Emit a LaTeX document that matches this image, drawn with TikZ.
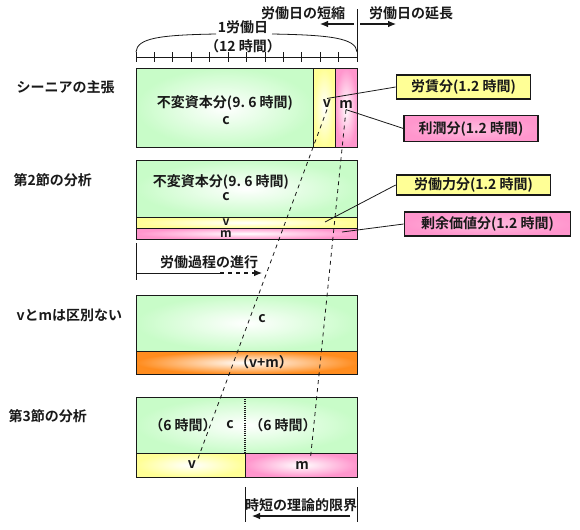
\documentclass[tikz,border=0pt]{standalone}
\usepackage{fontspec}
\setmainfont{Noto Sans CJK JP}[BoldFont={* Bold}]
\usepackage{tikz}
\usetikzlibrary{arrows.meta, positioning}
\definecolor{cgreen}{RGB}{200,252,200}
\definecolor{cyellow}{RGB}{255,255,150}
\definecolor{cpink}{RGB}{255,150,205}
\definecolor{corange}{RGB}{255,140,30}
\definecolor{mydark}{RGB}{25,25,25}
\tikzset{
  lbl/.style={font=\fontsize{10.5}{12}\selectfont\bfseries, inner sep=1pt, text=mydark},
  rowlbl/.style={lbl, anchor=west},
  striplbl/.style={lbl, font=\fontsize{9}{9}\selectfont\bfseries, inner sep=0pt,
    text height=1ex, text depth=0pt},
  callout/.style={rectangle, draw=mydark, line width=0.8pt, lbl, inner sep=0pt,
    minimum height=18pt},
  segbox/.style={draw=mydark, line width=0.6pt, inner color=white},
  arrow/.style={-{Latex[length=6pt,width=5pt]}, line width=0.8pt, color=mydark},
  line/.style={line width=0.6pt, color=mydark},
  guide/.style={dashed, line width=0.6pt, color=mydark}
}

\begin{document}
\begin{tikzpicture}[x=0.75pt, y=-0.75pt, node distance=2pt]
\useasboundingbox (0,0) rectangle (580,529);

% top: working day and ruler
\node[lbl] (day) at (243,27) {1労働日};
\node[lbl, below=2pt of day] (dayh) {（12 時間）};
\draw[line] (136,52) .. controls (137,38) and (160,35) .. (216,34);
\draw[line] (272,34) .. controls (330,35) and (356,38) .. (357,52);
\draw[line] (136,57) -- (357,57);
\foreach \i in {0,...,12}
  \draw[line] (136+\i*18.4167,52) -- ++(0,10);
\coordinate (split) at (357,9);
\coordinate (splitb) at (357,56);
\draw[line] (split) -- (splitb);
\node[lbl] (short) at (303,13) {労働日の短縮};
\node[lbl] (long) at (411,13) {労働日の延長};
\coordinate (s0) at (354,24);
\coordinate (s1) at (320,24);
\coordinate (l0) at (360,24);
\coordinate (l1) at (396,24);
\draw[arrow] (s0) -- (s1);
\draw[arrow] (l0) -- (l1);

% row 1
\node[rowlbl] (r1) at (15,87) {シーニアの主張};
\shade[segbox, outer color=cgreen] (136,68) rectangle (313,147);
\shade[segbox, outer color=cyellow] (313,68) rectangle (335,147);
\shade[segbox, outer color=cpink] (335,68) rectangle (357,147);
\node[lbl] (c1t) at (225,103) {不変資本分(9.~6 時間)};
\node[lbl] (c1) at (226,121) {c};
\node[lbl] (v1) at (327,104) {v};
\node[lbl] (m1) at (346,104) {m};
\node[callout, fill=cyellow, minimum width=101pt] (wage) at (463.5,87) {労賃分(1.2 時間)};
\node[callout, inner color=white!35!cpink, outer color=cpink, minimum width=100.5pt, minimum height=19pt] (profit) at (471,128.5) {利潤分(1.2 時間)};
\draw[line] (wage.west) -- (v1.north);
\draw[line] (profit.west) -- (m1.south);

% row 2
\node[rowlbl] (r2) at (12,180) {第2節の分析};
\shade[segbox, outer color=cgreen] (136,160) rectangle (357,217);
\shade[segbox, outer color=cyellow] (136,217) rectangle (357,228);
\shade[segbox, outer color=cpink] (136,228) rectangle (357,239);
\node[lbl] (c2t) at (221,182) {不変資本分(9.~6 時間)};
\node[lbl] (c2) at (226,197) {c};
\node[striplbl] (v2) at (226,222) {v};
\node[striplbl] (m2) at (226,234) {m};
\node[callout, fill=cyellow, minimum width=116pt, minimum height=15pt] (labour) at (473.5,185) {労働力分(1.2 時間)};
\node[callout, inner color=white!35!cpink, outer color=cpink, minimum width=125pt] (surplus) at (487.5,224) {剰余価値分(1.2 時間)};
\coordinate (vp2) at (325,222);
\coordinate (mp2) at (342,232);
\draw[line] (labour.west) -- (vp2);
\draw[line] (surplus.west) -- (mp2);

% labour process
\coordinate (p0) at (136,243);
\coordinate (p1) at (136,280);
\coordinate (q0) at (136,273);
\coordinate (q1) at (220,273);
\coordinate (q2) at (262,273);
\draw[line] (p0) -- (p1);
\draw[line] (q0) -- (q1);
\draw[arrow, dashed] (q1) -- (q2);
\node[lbl] (proc) at (209,262) {労働過程の進行};

% row 3
\node[rowlbl] (r3) at (15,315) {vとmは区別ない};
\shade[segbox, outer color=cgreen] (136,295) rectangle (357,351);
\shade[segbox, outer color=corange] (136,351) rectangle (357,374);
\node[lbl] (c3) at (262,319) {c};
\node[lbl] (vm3) at (264,362) {（v+m）};

% row 4
\node[rowlbl] (r4) at (7,416) {第3節の分析};
\shade[segbox, outer color=cgreen] (136,397) rectangle (357,453);
\shade[segbox, outer color=cyellow] (136,453) rectangle (245,477);
\shade[segbox, outer color=cpink] (245,453) rectangle (357,477);
\draw[line, densely dotted, line width=1pt] (245,397) -- (245,453);
\node[lbl] (h4a) at (183,425) {（6 時間）};
\node[lbl] (c4) at (230,425) {c};
\node[lbl] (h4b) at (283,425) {（6 時間）};
\node[lbl] (v4) at (192,465) {v};
\node[lbl] (m4) at (302,465) {m};

% theoretical limit
\coordinate (t0) at (245,487);
\coordinate (t1) at (245,522);
\coordinate (t2) at (357,487);
\coordinate (t3) at (357,522);
\draw[line] (t0) -- (t1);
\draw[line] (t2) -- (t3);
\node[lbl] (limit) at (301,505) {時短の理論的限界};
\coordinate (a0) at (350,516);
\coordinate (a1) at (252,516);
\draw[arrow] (a0) -- (a1);

% guides from v and m down to section 3
\draw[guide] (v1.south) -- (v4.north east);
\draw[guide] (m1.south) -- (m4.north east);
\end{tikzpicture}
\end{document}
